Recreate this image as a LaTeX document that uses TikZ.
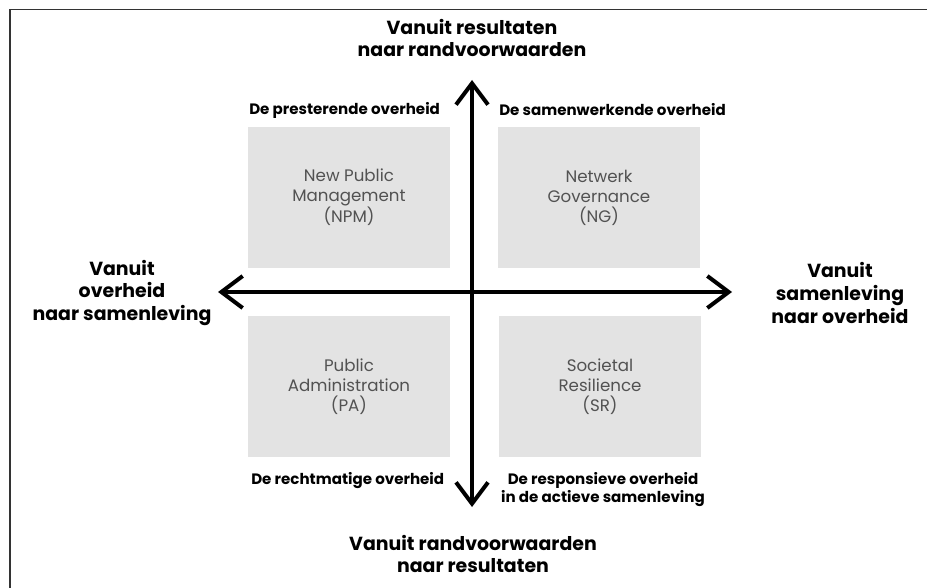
\documentclass[tikz,border=0pt]{standalone}
\usepackage{fontspec}
\setmainfont{Poppins}
\usetikzlibrary{arrows.meta}
\definecolor{boxgray}{HTML}{E3E3E3}
\definecolor{txtgray}{HTML}{525252}
\definecolor{framegray}{HTML}{333333}
\begin{document}
\begin{tikzpicture}[x=0.75pt,y=-0.75pt,
  axislabel/.style={font=\bfseries\fontsize{14.2}{17}\selectfont, align=center, text=black, inner sep=0pt},
  quadlabel/.style={font=\bfseries\fontsize{11.3}{13.5}\selectfont, align=center, inner sep=0pt},
  quadbox/.style={fill=boxgray, minimum width=151.5pt, minimum height=106pt, text=txtgray,
     font=\fontsize{12.5}{15}\selectfont, align=center, inner sep=0pt},
  axisline/.style={line width=3pt, {Straight Barb[length=16pt,width=24pt]}-{Straight Barb[length=16pt,width=24pt]}}
]
\path[use as bounding box] (0,0) rectangle (927,588);
\draw[framegray, line width=1.2pt] (10,588) -- (10,9.5) -- (927,9.5);

% quadrant boxes
\node[quadbox] (npm) at (349,197.5) {New Public\\Management\\(NPM)};
\node[quadbox] (ng)  at (599,197.5) {Netwerk\\Governance\\(NG)};
\node[quadbox] (pa)  at (349,386.5) {Public\\Administration\\(PA)};
\node[quadbox] (sr)  at (600,386.5) {Societal\\Resilience\\(SR)};

% axes
\coordinate (ttip) at (472,80);
\coordinate (btip) at (472,507);
\coordinate (ltip) at (218,292);
\coordinate (rtip) at (732,292);
\draw[axisline] (ltip) -- (rtip);
\draw[axisline] (btip) -- (ttip);

% axis labels
\node[axislabel] (top) at (472,38) {Vanuit resultaten\\naar randvoorwaarden};
\node[axislabel] (bot) at (473,554) {Vanuit randvoorwaarden\\naar resultaten};
\node[axislabel] (lft) at (122,293) {Vanuit\\overheid\\naar samenleving};
\node[axislabel] (rgt) at (840,293) {Vanuit\\samenleving\\naar overheid};

% quadrant labels
\node[quadlabel, anchor=west] (lpres) at (249,110) {De presterende overheid};
\node[quadlabel, anchor=west] (lsam) at (499,110) {De samenwerkende overheid};
\node[quadlabel, anchor=west] (lrecht) at (251,481) {De rechtmatige overheid};
\node[quadlabel] (lresp) at (603,490) {De responsieve overheid\\in de actieve samenleving};
\end{tikzpicture}
\end{document}
